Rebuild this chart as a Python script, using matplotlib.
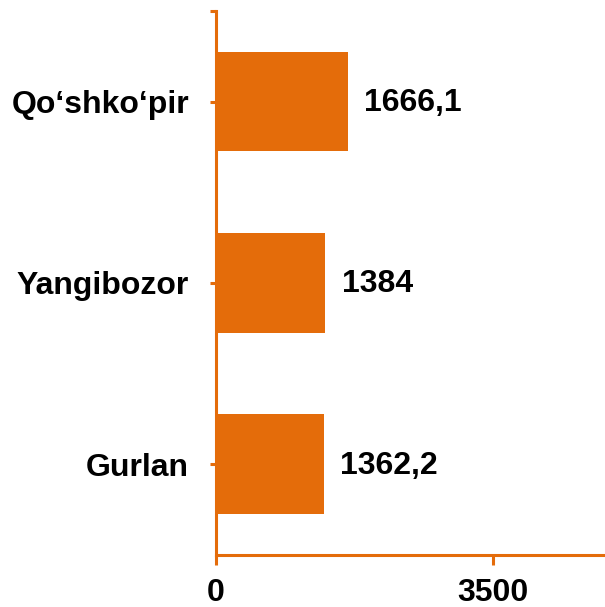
import matplotlib
matplotlib.use('Agg')
import matplotlib.pyplot as plt

# data
districts = ['Gurlan', 'Yangibozor', 'Qo‘shko‘pir']
values = [1362.2, 1384, 1666.1]
value_labels = ['1362,2', '1384', '1666,1']
x_ticks = [0, 3500]

orange = '#E46C0A'

plt.rcParams['font.family'] = ['Liberation Sans', 'DejaVu Sans']
plt.rcParams['font.weight'] = 'bold'

fig = plt.figure(figsize=(6.05, 6.07), dpi=100)
ax = fig.add_axes([0.357, 0.0857, 0.643, 0.8963])

pos = range(len(districts))
ax.barh(pos, values, height=0.55, color=orange)

for p, v, lab in zip(pos, values, value_labels):
    ax.annotate(lab, (v, p), xytext=(12, -1), textcoords='offset points',
                va='center', ha='left', fontsize=23, fontweight='bold')

ax.set_xlim(0, 4920)
ax.set_ylim(-0.5, 2.5)
ax.set_xticks(x_ticks)
ax.set_xticklabels([str(t) for t in x_ticks], fontsize=23, fontweight='bold')
ax.set_yticks(list(pos))
ax.set_yticklabels(districts, fontsize=23, fontweight='bold')
ax.set_yticks([2.5], minor=True)

for s in ['top', 'right']:
    ax.spines[s].set_visible(False)
for s in ['left', 'bottom']:
    ax.spines[s].set_color(orange)
    ax.spines[s].set_linewidth(2.2)

ax.tick_params(axis='x', colors=orange, labelcolor='black', length=7, width=2.2, pad=9.5)
ax.tick_params(axis='y', which='both', colors=orange, labelcolor='black', length=4.5, width=2.2, pad=15)

fig.savefig('out.png', dpi=100)
